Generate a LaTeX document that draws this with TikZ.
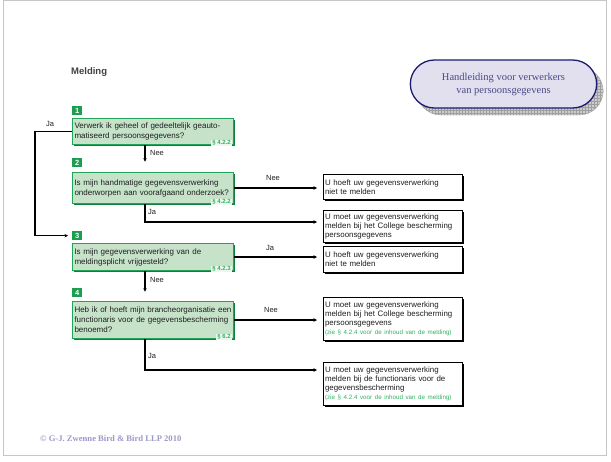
\documentclass[tikz,border=0pt]{standalone}
\usepackage{fontspec}
\setmainfont{Liberation Serif}
\setsansfont{Liberation Sans}
\usetikzlibrary{shadows,calc,patterns,arrows.meta,shapes.misc}
\definecolor{qfill}{HTML}{C6E3CA}
\definecolor{qline}{HTML}{22A358}
\definecolor{qdark}{HTML}{0E7E3E}
\definecolor{tagg}{HTML}{1B9E4E}
\definecolor{txt}{HTML}{1E1E1E}
\definecolor{hbfill}{HTML}{E2E0EE}
\definecolor{hbline}{HTML}{1A1A6E}
\definecolor{hbtxt}{HTML}{4A4A86}
\definecolor{copyc}{HTML}{9A98C8}
\definecolor{notec}{HTML}{2FB060}
\begin{document}
\begin{tikzpicture}[x=1pt,y=-1pt,
  qbox/.style={draw=qline, line width=1pt, fill=qfill, anchor=north west,
    minimum width=161pt, text width=157pt, align=left, inner xsep=2pt, inner ysep=2pt,
    text=txt, font=\sffamily\fontsize{8}{10}\selectfont,
    drop shadow={shadow xshift=1.2pt, shadow yshift=-1.6pt, fill=qdark, opacity=1}},
  rbox/.style={draw=black, line width=1pt, fill=white, anchor=north west,
    minimum width=139pt, text width=136pt, align=left, inner xsep=1.5pt, inner ysep=1.5pt,
    text=txt, font=\sffamily\fontsize{7.9}{9}\selectfont,
    drop shadow={shadow xshift=1.2pt, shadow yshift=-1.4pt, fill=black, opacity=1}},
  numtag/.style={fill=tagg, text=white, anchor=north west, minimum width=10pt,
    minimum height=9pt, inner sep=0pt, font=\sffamily\bfseries\fontsize{7.5}{7.5}\selectfont},
  sectag/.style={fill=white!70!qfill, text=notec, anchor=south east, inner xsep=1.5pt,
    inner ysep=0.8pt, font=\sffamily\bfseries\fontsize{6}{6}\selectfont},
  lbl/.style={font=\sffamily\fontsize{7.5}{7.5}\selectfont, text=txt, inner sep=0pt},
  conn/.style={line width=1.2pt, black},
  arr/.style={conn, -{Stealth[length=3.5pt,width=3.5pt]}, shorten >=6pt},
]
\useasboundingbox (0,0) rectangle (611,461);
\draw[gray!45, line width=0.6pt] (3,0) rectangle (606,455);

% title
\node[anchor=west, font=\sffamily\bfseries\fontsize{9.5}{9.5}\selectfont, text=txt!85!white, inner sep=0pt] (title) at (71,72) {Melding};

% handbook badge
\node[rounded rectangle, minimum width=193pt, minimum height=48pt, draw=gray!70,
  preaction={fill=gray!40}, pattern=grid, pattern color=gray!75] (hbshadow) at (510,91) {};
\node[rounded rectangle, minimum width=193pt, minimum height=48pt, draw=hbline,
  line width=1.3pt, fill=hbfill, text=hbtxt, align=center,
  font=\rmfamily\fontsize{10.5}{13}\selectfont] (hb) at (503.5,84)
  {Handleiding voor verwerkers\\van persoonsgegevens};

% question boxes
\node[numtag] (n1) at (72,106) {1};
\node[qbox, minimum height=26pt] (q1) at (72,118)
  {Verwerk ik geheel of gedeeltelijk geauto-\\matiseerd persoonsgegevens?\\[-2pt]};
\node[sectag] (s1) at ($(q1.south east)+(-1.5,1.5)$) {§ 4.2.2};

\node[numtag] (n2) at (72,158) {2};
\node[qbox, minimum height=31pt] (q2) at (72,172)
  {Is mijn handmatige gegevensverwerking\\onderworpen aan voorafgaand onderzoek?\\[-2pt]};
\node[sectag] (s2) at ($(q2.south east)+(-1.5,1.5)$) {§ 4.2.2};

\node[numtag] (n3) at (72,231) {3};
\node[qbox, minimum height=27pt] (q3) at (72,243)
  {Is mijn gegevensverwerking van de\\meldingsplicht vrijgesteld?\\[-2pt]};
\node[sectag] (s3) at ($(q3.south east)+(-1.5,1.5)$) {§ 4.2.3};

\node[numtag] (n4) at (72,288) {4};
\node[qbox, minimum height=37pt] (q4) at (72,301)
  {Heb ik of hoeft mijn brancheorganisatie een\\functionaris voor de gegevensbescherming\\benoemd?};
\node[sectag] (s4) at ($(q4.south east)+(-1.5,1.5)$) {§ 6.2};

% result boxes
\node[rbox, minimum height=25pt] (r1) at (323,174)
  {U hoeft uw gegevensverwerking\\niet te melden};
\node[rbox, minimum height=32pt] (r2) at (323,210)
  {U moet uw gegevensverwerking\\melden bij het College bescherming\\persoonsgegevens};
\node[rbox, minimum height=26pt] (r3) at (323,246)
  {U hoeft uw gegevensverwerking\\niet te melden};
\node[rbox, minimum height=43pt] (r4) at (323,297)
  {U moet uw gegevensverwerking\\melden bij het College bescherming\\persoonsgegevens\\
   {\color{notec}\fontsize{6.2}{7}\selectfont(zie § 4.2.4 voor de inhoud van de melding)}};
\node[rbox, minimum height=43pt] (r5) at (323,362)
  {U moet uw gegevensverwerking\\melden bij de functionaris voor de\\gegevensbescherming\\
   {\color{notec}\fontsize{6.2}{7}\selectfont(zie § 4.2.4 voor de inhoud van de melding)}};

% spine coordinates
\coordinate (spine) at (145,0);
\coordinate (leftrail) at (35,0);

% connectors
\draw[arr, shorten >=4pt] (q1.west) -- (q1.west -| leftrail) |- (n3.west);
\draw[arr, shorten >=1pt] (q1.south -| spine) -- (n2.center -| spine);
\draw[arr] (q2.east) -- (q2.east -| r1.west);
\draw[arr] (q2.south -| spine) |- ($(r2.north west)+(0,12)$);
\draw[arr] (q3.east) -- (q3.east -| r3.west);
\draw[arr, shorten >=1pt] (q3.south -| spine) -- (n4.center -| spine);
\draw[arr] (q4.east) -- (q4.east -| r4.west);
\draw[arr] (q4.south -| spine) |- ($(r5.north west)+(0,8)$);

% branch labels
\node[lbl] (l1) at (50,124) {Ja};
\node[lbl] (l2) at (157,153) {Nee};
\node[lbl] (l3) at (273,178) {Nee};
\node[lbl] (l4) at (152,212) {Ja};
\node[lbl] (l5) at (270,248) {Ja};
\node[lbl] (l6) at (157,280) {Nee};
\node[lbl] (l7) at (271,310) {Nee};
\node[lbl] (l8) at (152,356) {Ja};

% copyright
\node[anchor=west, inner sep=0pt, text=copyc, font=\rmfamily\bfseries\fontsize{8.6}{8.6}\selectfont] (copy) at (40,439)
  {© G-J. Zwenne Bird \& Bird LLP 2010};
\end{tikzpicture}
\end{document}
